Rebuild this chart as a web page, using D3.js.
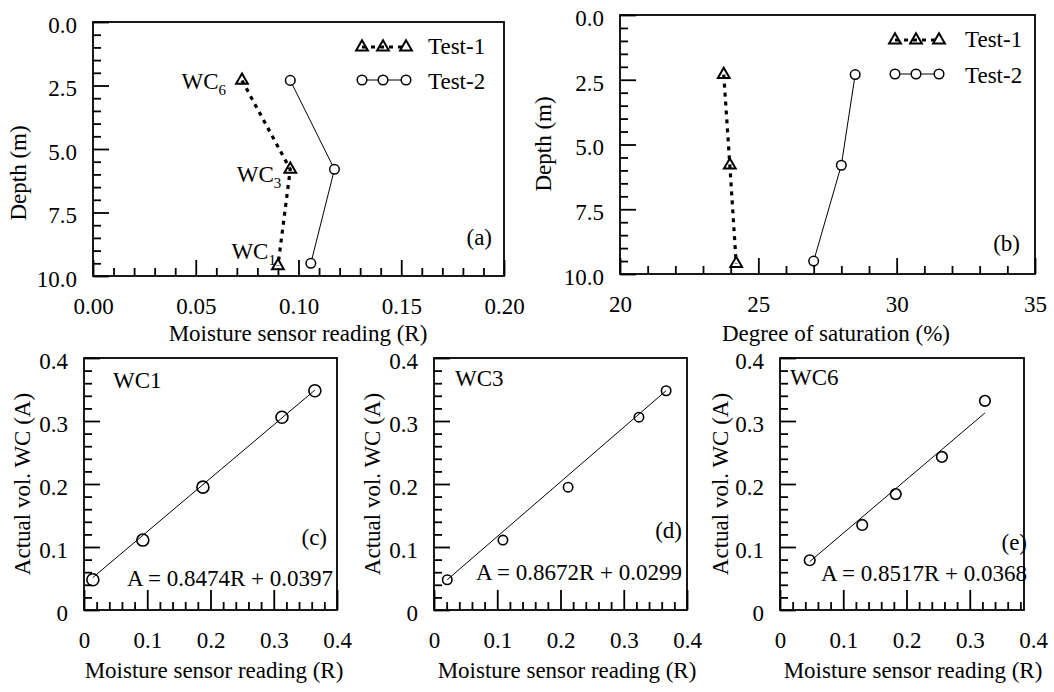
<!DOCTYPE html>
<html>
<head>
<meta charset="utf-8">
<script src="https://cdn.jsdelivr.net/npm/d3@7"></script>
<style>
  body { margin: 0; background: #fff; }
  #chart, #chart text { font-family: 'Liberation Serif', 'Times New Roman', Tinos, 'DejaVu Serif', serif; }
  #chart text { font-size: 23px; fill: #000; }
</style>
</head>
<body>
<svg id="chart" width="1054" height="692" font-family="Liberation Serif" font-size="23"></svg>
<script>
// Depth profiles, panels (a) and (b)
const depthTest1 = [2.3, 5.8, 9.6];
const depthTest2 = [2.3, 5.8, 9.5];
const readingTest1 = [0.0725, 0.096, 0.090];
const readingTest2 = [0.096, 0.1175, 0.106];
const saturationTest1 = [23.75, 23.97, 24.2];
const saturationTest2 = [28.5, 28.0, 27.0];
const sensorIds = ['6', '3', '1'];

// Calibration, panels (c) (d) (e)
const wc1R = [0.014, 0.093, 0.188, 0.313, 0.365];
const wc1A = [0.048, 0.111, 0.195, 0.306, 0.348];
const wc3R = [0.021, 0.109, 0.212, 0.324, 0.367];
const wc3A = [0.048, 0.111, 0.195, 0.306, 0.348];
const wc6R = [0.047, 0.130, 0.183, 0.256, 0.324];
const wc6A = [0.079, 0.135, 0.184, 0.243, 0.332];
const fitSlope = [0.8474, 0.8672, 0.8517];
const fitIntercept = [0.0397, 0.0299, 0.0368];

// tick values
const depthMajor = [0, 2.5, 5, 7.5, 10];
const depthMinor = d3.range(0, 21).map(i => i * 0.5).filter((d, i) => i % 5 !== 0);
const readingMajor = [0, 0.05, 0.10, 0.15, 0.20];
const readingMinor = d3.range(0, 21).map(i => i * 0.01).filter((d, i) => i % 5 !== 0);
const satMajor = [20, 25, 30, 35];
const satMinor = d3.range(20, 36).filter(d => d % 5 !== 0);
const calMajor = [0, 0.1, 0.2, 0.3, 0.4];
const calMinor = d3.range(0, 21).map(i => i * 0.02).filter((d, i) => i % 5 !== 0);

const svg = d3.select('#chart');
const FONT = "'Liberation Serif', 'Times New Roman', serif";

function drawAxes(g, x, y, h, o) {
    const bottom = g.append('g').attr('transform', `translate(0,${h})`);
    bottom.append('g').call(d3.axisBottom(x).tickValues(o.xMinor).tickSize(-8).tickFormat(''));
    bottom.append('g').call(d3.axisBottom(x).tickValues(o.xMajor).tickSize(-o.xLen).tickPadding(22).tickFormat(o.xFmt));
    const left = g.append('g');
    left.append('g').call(d3.axisLeft(y).tickValues(o.yMinor).tickSize(-8).tickFormat(''));
    left.append('g').call(d3.axisLeft(y).tickValues(o.yMajor).tickSize(-16).tickPadding(16).tickFormat(o.yFmt));
    g.selectAll('.domain').remove();
    g.selectAll('.tick line').attr('stroke-width', 1.8);
    g.selectAll('g').attr('font-size', 23).attr('font-family', FONT);
    left.selectAll('.tick text').attr('dy', '0.45em');
    if (o.frameW) {
        // ticks past the frame keep only their label
        bottom.selectAll('.tick').filter(d => x(d) > o.frameW + 1).select('line').remove();
    }
}

function frame(g, w, h) {
    g.append('rect').attr('width', w).attr('height', h)
        .attr('fill', 'none').attr('stroke', '#000').attr('stroke-width', 1.8);
}

function label(g, txt, x, y, anchor) {
    return g.append('text').attr('x', x).attr('y', y).attr('dy', '0.35em')
        .attr('font-family', FONT).attr('font-size', 23)
        .attr('text-anchor', anchor || 'start').text(txt);
}

function yTitle(txt, x, y) {
    svg.append('text').attr('transform', `translate(${x},${y}) rotate(-90)`)
        .attr('font-family', FONT).attr('font-size', 23)
        .attr('text-anchor', 'middle').attr('dy', '0.35em').text(txt);
}

const triangle = d3.symbol(d3.symbolTriangle, 60);

function drawProfile(g, x, y, xs1, ys1, xs2, ys2) {
    const p1 = d3.zip(xs1, ys1), p2 = d3.zip(xs2, ys2);
    const line = d3.line().x(d => x(d[0])).y(d => y(d[1]));
    g.append('path').attr('d', line(p1)).attr('fill', 'none')
        .attr('stroke', '#000').attr('stroke-width', 3.2).attr('stroke-dasharray', '4 5');
    g.append('path').attr('d', line(p2)).attr('fill', 'none')
        .attr('stroke', '#000').attr('stroke-width', 1);
    g.selectAll('.tri').data(p1).join('path').attr('class', 'tri')
        .attr('d', triangle)
        .attr('transform', d => `translate(${x(d[0])},${y(d[1])})`)
        .attr('fill', 'none').attr('stroke', '#000').attr('stroke-width', 2);
    g.selectAll('.circ').data(p2).join('circle').attr('class', 'circ')
        .attr('cx', d => x(d[0])).attr('cy', d => y(d[1])).attr('r', 4.8)
        .attr('fill', '#fff').attr('stroke', '#000').attr('stroke-width', 1.5);
}

function drawLegend(g, lx, ly1, ly2, tx) {
    const xs = [lx, lx + 21, lx + 44];
    g.append('line').attr('x1', xs[0]).attr('x2', xs[2]).attr('y1', ly1).attr('y2', ly1)
        .attr('stroke', '#000').attr('stroke-width', 3.2).attr('stroke-dasharray', '4 5');
    xs.forEach(x => g.append('path').attr('d', triangle).attr('transform', `translate(${x},${ly1})`)
        .attr('fill', 'none').attr('stroke', '#000').attr('stroke-width', 2));
    g.append('line').attr('x1', xs[0]).attr('x2', xs[2]).attr('y1', ly2).attr('y2', ly2)
        .attr('stroke', '#000').attr('stroke-width', 1);
    xs.forEach(x => g.append('circle').attr('cx', x).attr('cy', ly2).attr('r', 4.8)
        .attr('fill', '#fff').attr('stroke', '#000').attr('stroke-width', 1.5));
    label(g, 'Test-1', tx, ly1 - 1);
    label(g, 'Test-2', tx, ly2 + 1);
}

const fmt1 = d3.format('.1f');
const fmt2 = d3.format('.2f');
const calFmt = d => d === 0 ? '0' : fmt1(d);

// ---- Panel (a)
{
    const w = 411, h = 254;
    const g = svg.append('g').attr('transform', 'translate(93,22)');
    const x = d3.scaleLinear().domain([0, 0.2]).range([0, w]);
    const y = d3.scaleLinear().domain([0, 10]).range([0, h]);
    drawAxes(g, x, y, h, { xMajor: readingMajor, xMinor: readingMinor, xLen: 16, xFmt: fmt2,
        yMajor: depthMajor, yMinor: depthMinor, yFmt: fmt1 });
    frame(g, w, h);
    drawProfile(g, x, y, readingTest1, depthTest1, readingTest2, depthTest2);

    // sensor tags next to Test-1 points
    const tagOffset = [[-16, 9], [-9, 13], [-2, -7]];
    sensorIds.forEach((id, i) => {
        const t = g.append('text').attr('text-anchor', 'end')
            .attr('font-family', FONT).attr('font-size', 23)
            .attr('x', x(readingTest1[i]) + tagOffset[i][0])
            .attr('y', y(depthTest1[i]) + tagOffset[i][1]);
        t.append('tspan').text('WC');
        t.append('tspan').attr('font-size', 15).attr('dy', 6).text(id);
    });
    drawLegend(g, 269, 25, 58, 335);
    label(g, '(a)', 399, 215, 'end');
    yTitle('Depth (m)', 18, 173);
    label(svg, 'Moisture sensor reading (R)', 298, 333, 'middle');
}

// ---- Panel (b)
{
    const w = 415, h = 259;
    const g = svg.append('g').attr('transform', 'translate(620,15)');
    const x = d3.scaleLinear().domain([20, 35]).range([0, w]);
    const y = d3.scaleLinear().domain([0, 10]).range([0, h]);
    drawAxes(g, x, y, h, { xMajor: satMajor, xMinor: satMinor, xLen: 16, xFmt: d3.format('d'),
        yMajor: depthMajor, yMinor: depthMinor, yFmt: fmt1 });
    frame(g, w, h);
    drawProfile(g, x, y, saturationTest1, depthTest1, saturationTest2, depthTest2);
    drawLegend(g, 275, 25, 59, 345);
    label(g, '(b)', 400, 228, 'end');
    yTitle('Depth (m)', 543, 144);
    label(svg, 'Degree of saturation (%)', 836, 333, 'middle');
}

// ---- Calibration panels (c), (d), (e)
const calPanels = [
    { left: 84, R: wc1R, A: wc1A, name: 'WC1', letter: '(c)', r: 6, tag: [29, 22], letterPos: [243, 179], eqPos: [249, 220], titleX: 22, axisX: 214 },
    { left: 434, R: wc3R, A: wc3A, name: 'WC3', letter: '(d)', r: 4.7, tag: [21, 20], letterPos: [248, 172], eqPos: [248, 214], titleX: 372, axisX: 567 },
    { left: 780, R: wc6R, A: wc6A, name: 'WC6', letter: '(e)', r: 5.3, tag: [10, 19], letterPos: [247, 184], eqPos: [247, 215], titleX: 720, axisX: 913, frameW: 244 }
];

calPanels.forEach((p, k) => {
    const w = 253, h = 252;
    const fw = p.frameW || w;
    const g = svg.append('g').attr('transform', `translate(${p.left},358)`);
    const x = d3.scaleLinear().domain([0, 0.4]).range([0, w]);
    const y = d3.scaleLinear().domain([0, 0.4]).range([h, 0]);
    const xMinor = calMinor.filter(d => x(d) <= fw);
    drawAxes(g, x, y, h, { xMajor: calMajor, xMinor, xLen: 20, xFmt: calFmt,
        yMajor: calMajor, yMinor: calMinor, yFmt: calFmt, frameW: fw });
    frame(g, fw, h);

    const r0 = d3.min(p.R), r1 = d3.max(p.R);
    const fit = [r0, r1].map(r => [r, fitSlope[k] * r + fitIntercept[k]]);
    g.append('path').attr('d', d3.line().x(d => x(d[0])).y(d => y(d[1]))(fit))
        .attr('fill', 'none').attr('stroke', '#000').attr('stroke-width', 1);
    g.selectAll('.pt').data(d3.zip(p.R, p.A)).join('circle').attr('class', 'pt')
        .attr('cx', d => x(d[0])).attr('cy', d => y(d[1])).attr('r', p.r)
        .attr('fill', 'none').attr('stroke', '#000').attr('stroke-width', 1.6);

    label(g, p.name, p.tag[0], p.tag[1]);
    label(g, p.letter, p.letterPos[0], p.letterPos[1], 'end');
    label(g, `A = ${fitSlope[k].toFixed(4)}R + ${fitIntercept[k].toFixed(4)}`, p.eqPos[0], p.eqPos[1], 'end');
    yTitle('Actual vol. WC (A)', p.titleX, 484);
    label(svg, 'Moisture sensor reading (R)', p.axisX, 670, 'middle');
});
</script>
</body>
</html>
